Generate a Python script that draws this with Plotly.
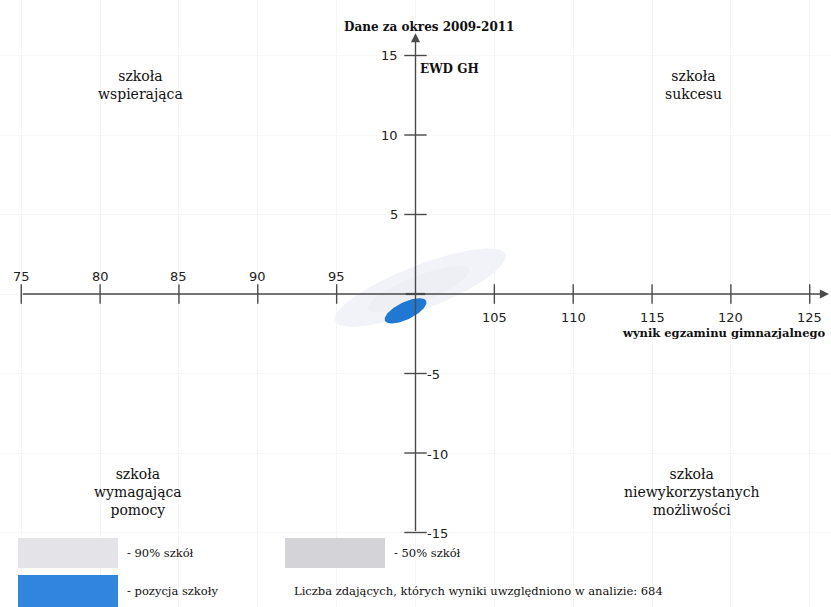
import numpy as np
import plotly.graph_objects as go

# ---- data ----
x_ticks = [75, 80, 85, 90, 95, 105, 110, 115, 120, 125]
x_tick_labels = ["75", "80", "85", "90", "95", "105", "110", "115", "120", "125"]
y_ticks = [15, 10, 5, -5, -10, -15]
y_tick_labels = ["15", "10", "5", "-5", "-10", "-15"]
origin_x = 100
origin_y = 0

# school position ellipse: centre, semi-major vector, semi-minor vector (data units)
school_center = [99.37, -1.06]
school_major = [1.31, 0.62]
school_minor = [0.22, -0.50]

# 90% of schools region
p90_center = [100.3, 0.4]
p90_major = [5.4, 2.1]
p90_minor = [0.5, -1.3]

# 50% of schools region
p50_center = [100.2, 0.3]
p50_major = [3.2, 1.25]
p50_minor = [0.30, -0.78]

n_students = 684

title = "Dane za okres 2009-2011"
y_title = "EWD GH"
x_title = "wynik egzaminu gimnazjalnego"
quadrants = {
    "tl": "szkoła<br>wspierająca",
    "tr": "szkoła<br>sukcesu",
    "bl": "szkoła<br>wymagająca<br>pomocy",
    "br": "szkoła<br>niewykorzystanych<br>możliwości",
}


def ellipse(c, a, b, n=120):
    t = np.linspace(0, 2 * np.pi, n)
    xs = c[0] + np.cos(t) * a[0] + np.sin(t) * b[0]
    ys = c[1] + np.cos(t) * a[1] + np.sin(t) * b[1]
    return xs, ys


W, H = 831, 607
AX = "#4a4a4a"
SERIF = "DejaVu Serif"
SANS = "DejaVu Sans"

fig = go.Figure()

for c, a, b, col in [
    (p90_center, p90_major, p90_minor, "#f2f3f8"),
    (p50_center, p50_major, p50_minor, "#edeff5"),
    (school_center, school_major, school_minor, "#1f78d1"),
]:
    ex, ey = ellipse(c, a, b)
    fig.add_trace(go.Scatter(x=ex, y=ey, mode="lines", fill="toself",
                             fillcolor=col, line=dict(width=0, color=col),
                             hoverinfo="skip", showlegend=False))

# ticks on x axis
fig.add_trace(go.Scatter(x=x_ticks, y=[origin_y] * len(x_ticks), mode="markers",
                         marker=dict(symbol="line-ns", size=14, line=dict(width=1.4, color=AX)),
                         hoverinfo="skip", showlegend=False))
# ticks on y axis
fig.add_trace(go.Scatter(x=[origin_x] * len(y_ticks), y=y_ticks, mode="markers",
                         marker=dict(symbol="line-ew", size=16, line=dict(width=1.4, color=AX)),
                         hoverinfo="skip", showlegend=False))
# centre cross
fig.add_trace(go.Scatter(x=[origin_x], y=[origin_y], mode="markers",
                         marker=dict(symbol="line-ew", size=14, line=dict(width=2.2, color=AX)),
                         hoverinfo="skip", showlegend=False))

anns = []
tfont = dict(family=SANS, size=13, color="#222")
# x tick labels: left of origin above, right of origin below
for v, lab in zip(x_ticks, x_tick_labels):
    anns.append(dict(x=v, y=origin_y, xref="x", yref="y", text=lab, showarrow=False,
                     xanchor="center", yanchor="middle",
                     yshift=18 if v < origin_x else -23, font=tfont))
# y tick labels: positive left, negative right
for v, lab in zip(y_ticks, y_tick_labels):
    if v > origin_y:
        anns.append(dict(x=origin_x, y=v, xref="x", yref="y", text=lab, showarrow=False,
                         xanchor="right", yanchor="middle", xshift=-16, font=tfont))
    else:
        anns.append(dict(x=origin_x, y=v, xref="x", yref="y", text=lab, showarrow=False,
                         xanchor="left", yanchor="middle", xshift=9, yshift=-1, font=tfont))

# axes with arrows
anns.append(dict(x=126.22, y=origin_y, ax=x_ticks[0], ay=origin_y, xref="x", yref="y",
                 axref="x", ayref="y", showarrow=True, arrowhead=2, arrowsize=1.3,
                 arrowwidth=1.4, arrowcolor=AX, text=""))
anns.append(dict(x=origin_x, y=16.4, ax=origin_x, ay=y_ticks[-1], xref="x", yref="y",
                 axref="x", ayref="y", showarrow=True, arrowhead=2, arrowsize=1.3,
                 arrowwidth=1.4, arrowcolor=AX, text=""))


def P(px, py):
    return px / W, 1 - py / H


tx, ty = P(429, 18)
anns.append(dict(text="<b>" + title + "</b>", x=tx, y=ty, xref="paper", yref="paper",
                 showarrow=False, font=dict(family=SERIF, size=12, color="#111")))
anns.append(dict(text="<b>" + y_title + "</b>", x=origin_x, y=y_ticks[0], xref="x", yref="y",
                 xanchor="left", yanchor="middle", xshift=2, yshift=-13, showarrow=False,
                 font=dict(family=SERIF, size=12, color="#111")))
anns.append(dict(text="<b>" + x_title + "</b>", x=P(828, 0)[0], y=origin_y, xref="paper", yref="y",
                 xanchor="right", yanchor="middle", yshift=-39, showarrow=False,
                 font=dict(family=SERIF, size=11.5, color="#111")))

qfont = dict(family=SERIF, size=14, color="#111")
for key, (px, py, ya) in {"tl": (140, 66, "top"), "tr": (693, 66, "top"),
                          "bl": (138, 520, "bottom"), "br": (692, 520, "bottom")}.items():
    qx, qy = P(px, py)
    anns.append(dict(text=quadrants[key], x=qx, y=qy, xref="paper", yref="paper",
                     xanchor="center", yanchor=ya, showarrow=False, align="center", font=qfont))

lfont = dict(family=SERIF, size=11.5, color="#111")
for txt, px, py in [("- 90% szkół", 125, 553), ("- 50% szkół", 392, 553),
                    ("- pozycja szkoły", 125, 591),
                    (f"Liczba zdających, których wyniki uwzględniono w analizie: {n_students}", 292, 591)]:
    lx, ly = P(px, py)
    anns.append(dict(text=txt, x=lx, y=ly, xref="paper", yref="paper",
                     xanchor="left", yanchor="middle", showarrow=False, font=lfont))

shapes = []
for (x0, y0, x1, y1, col) in [(18, 538, 118, 568, "#e4e4e8"),
                              (285, 538, 385, 568, "#d3d3d8"),
                              (18, 575, 118, 607, "#2f86dc")]:
    shapes.append(dict(type="rect", xref="paper", yref="paper",
                       x0=x0 / W, x1=x1 / W, y0=1 - y1 / H, y1=1 - y0 / H,
                       fillcolor=col, line=dict(width=0), layer="above"))

# pixel mapping: x=100 at 415.5px, 15.77 px/unit; y=0 at 294px, 15.9 px/unit
x_range = [100 - 415.5 / 15.77, 100 + (W - 415.5) / 15.77]
y_range = [-(H - 294) / 15.9, 294 / 15.9]

fig.update_layout(
    width=W, height=H, autosize=False,
    margin=dict(l=0, r=0, t=0, b=0),
    paper_bgcolor="white", plot_bgcolor="white",
    xaxis=dict(range=x_range, showgrid=True, gridcolor="#f5f5f5", dtick=5, tick0=0,
               zeroline=False, showticklabels=False, showline=False, ticks="", fixedrange=True),
    yaxis=dict(range=y_range, showgrid=True, gridcolor="#f7f7f7", dtick=5, tick0=0,
               zeroline=False, showticklabels=False, showline=False, ticks="", fixedrange=True),
    annotations=anns, shapes=shapes, showlegend=False,
)

fig.write_html("out.html", config={"displayModeBar": False, "staticPlot": True},
               post_script="document.body.style.margin='0';document.body.style.overflow='hidden';")
